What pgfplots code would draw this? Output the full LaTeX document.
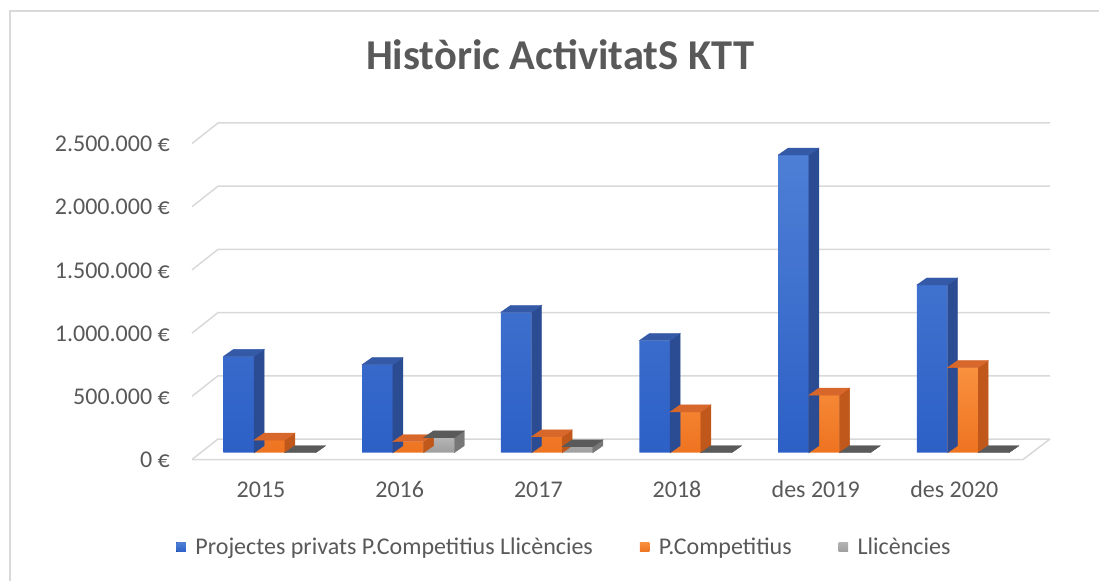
\documentclass[border=0pt]{standalone}
\usepackage{fontspec}
\setmainfont{Carlito}
\usepackage{pgfplots}
\pgfplotsset{compat=1.18}
\usepackage{pgfplotstable}
\definecolor{gridc}{HTML}{D9D9D9}
\definecolor{txt}{HTML}{595959}
\definecolor{bluetop}{HTML}{4E7FD6}
\definecolor{bluebot}{HTML}{2D60C6}
\definecolor{blueside}{HTML}{2B4C92}
\definecolor{bluetopf}{HTML}{3459A6}
\definecolor{oratop}{HTML}{F9913F}
\definecolor{orabot}{HTML}{EE7320}
\definecolor{oraside}{HTML}{C0571B}
\definecolor{oratopf}{HTML}{D8672B}
\definecolor{grytop}{HTML}{B4B4B4}
\definecolor{grybot}{HTML}{9E9E9E}
\definecolor{gryside}{HTML}{777777}
\definecolor{grytopf}{HTML}{5A5A5A}

\pgfplotstableread{
x blue orange grey
0 762000 100000 0
1 697000 87000 118000
2 1111000 126000 47000
3 888000 323000 0
4 2355000 455000 0
5 1327000 673000 0
}\data

\newcommand\barfaces[2]{%
  \pgfkeys{/pgf/fpu=true,/pgf/fpu/output format=fixed}%
  \pgfmathparse{\val*0.0001264}%
  \xdef\hh{\pgfmathresult}%
  \pgfkeys{/pgf/fpu=false}%
  \fill[#1] (0pt,0pt) -- ++(10pt,7pt) -- ++(0pt,-\hh pt) -- ++(-10pt,-7pt) -- cycle;
  \fill[#2] (0pt,0pt) -- ++(10pt,7pt) -- ++(-30.7pt,0pt) -- ++(-10pt,-7pt) -- cycle;
  \begin{pgfscope}\pgfsetstrokeopacity{0}\pgfsetfillopacity{0}%
}
\pgfplotsset{
  sq/.style={legend image code/.code={\fill[##1] (0pt,-4.75pt) rectangle (9.5pt,4.75pt); \path (17pt,0pt);}},
  faces/.style n args={2}{forget plot, scatter, only marks, mark=*, mark size=0.1pt,
    visualization depends on={y \as \val},
    scatter/@pre marker code/.code={\barfaces{#1}{#2}},
    scatter/@post marker code/.code={\end{pgfscope}}},
}

\begin{document}
\begin{tikzpicture}
\useasboundingbox (0,0) rectangle (1099pt,581pt);
\draw[gridc, line width=1.5pt] (10pt,0pt) -- (10pt,570pt) -- (1099pt,570pt);
\node[anchor=base, text=txt, font=\fontsize{42.5}{48}\selectfont\bfseries] at (560pt,511pt) {Històric ActivitatS KTT};
\begin{axis}[
  at={(200.2pt,128.3pt)}, anchor=south west,
  scale only axis, width=832pt, height=316pt,
  xmin=-0.5, xmax=5.5, ymin=0, ymax=2500000,
  clip=false,
  axis line style={draw=none}, tick style={draw=none},
  xtick={0,...,5}, xticklabels={2015,2016,2017,2018,des 2019,des 2020},
  ytick={0,500000,1000000,1500000,2000000,2500000},
  scaled y ticks=false,
  /pgf/number format/.cd, fixed, precision=0, 1000 sep={.}, assume math mode=true,
  /pgfplots/.cd,
  yticklabel={\pgfmathprintnumber{\tick}~€},
  tick label style={text=txt, font=\fontsize{24}{28}\selectfont, inner sep=0pt},
  yticklabel style={anchor=east, xshift=-30.2pt, yshift=-7.3pt},
  xticklabel style={anchor=base, xshift=-8.5pt, yshift=-45pt},
  legend columns=3,
  legend cell align=left,
  legend style={at={(0.4378,-0.2984)}, anchor=center, draw=none, fill=none,
    font=\fontsize{24}{28}\selectfont, text=txt,
    /tikz/every even column/.append style={column sep=45pt}},
]
% back wall grid, left wall and floor
\pgfplotsinvokeforeach{0,500000,1000000,1500000,2000000,2500000}{
  \draw[gridc, line width=1.5pt] (axis cs:-0.5,#1) ++(-8.2pt,-6.8pt) -- ++(26pt,20.5pt) -- ([shift={(17.8pt,13.7pt)}]axis cs:5.5,#1);
}
\draw[gridc, line width=1.5pt] (axis cs:-0.5,0) ++(-8.2pt,-6.8pt) -- ++(831pt,0pt) -- ([shift={(17.8pt,13.7pt)}]axis cs:5.5,0);

\addplot[ybar, bar width=0.2214, bar shift=-0.2214, draw=none, top color=bluetop, bottom color=bluebot, sq] table[x=x,y=blue]{\data};
\addlegendentry{Projectes privats P.Competitius Llicències}
\addplot[faces={blueside}{bluetopf}] table[x expr=\thisrow{x}-0.1107, y=blue]{\data};
\addplot[ybar, bar width=0.2214, bar shift=0, draw=none, top color=oratop, bottom color=orabot, sq] table[x=x,y=orange]{\data};
\addlegendentry{P.Competitius}
\addplot[faces={oraside}{oratopf}] table[x expr=\thisrow{x}+0.1107, y=orange]{\data};
\addplot[ybar, bar width=0.2214, bar shift=0.2214, draw=none, top color=grytop, bottom color=grybot, sq] table[x=x,y=grey]{\data};
\addlegendentry{Llicències}
\addplot[faces={gryside}{grytopf}] table[x expr=\thisrow{x}+0.3321, y=grey]{\data};
\end{axis}
\end{tikzpicture}
\end{document}
